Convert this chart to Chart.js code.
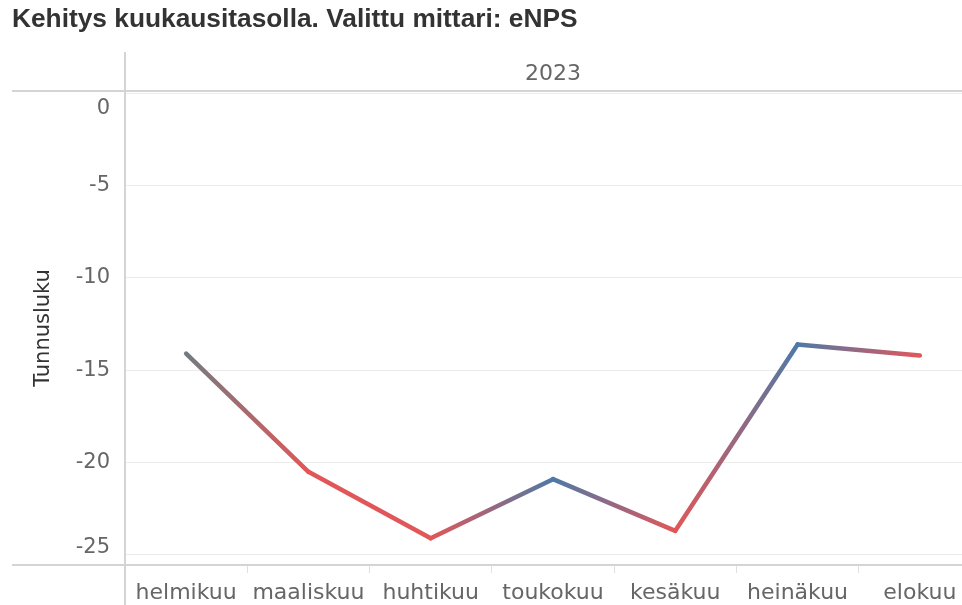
<!DOCTYPE html>
<html>
<head>
<meta charset="utf-8">
<script src="https://cdn.jsdelivr.net/npm/chart.js@4/dist/chart.umd.min.js"></script>
<style>
  html, body { margin: 0; padding: 0; background: #fff; overflow: hidden; }
  #wrap { width: 981px; height: 605px; }
</style>
</head>
<body>
<div id="wrap"><canvas id="kehitys"></canvas></div>
<script>
const months = ['helmikuu', 'maaliskuu', 'huhtikuu', 'toukokuu', 'kesäkuu', 'heinäkuu', 'elokuu'];
const enps = [-14.1, -20.5, -24.1, -20.9, -23.7, -13.6, -14.2];
const yearLabel = '2023';
const yTicks = [-25, -20, -15, -10, -5, 0];

const BLUE = '#4e79a7', RED = '#e15759', GREY = '#737b80';
const LINE = '#d4d4d4';
const FONT = 'DejaVu Sans';

// väri muutoksen suunnan mukaan (ensimmäinen harmaa)
function pointColor(i) {
  if (i === 0) return GREY;
  return enps[i] >= enps[i - 1] ? BLUE : RED;
}

const frameLines = {
  id: 'frameLines',
  beforeDatasetsDraw(chart) {
    const c = chart.ctx, a = chart.chartArea;
    c.save();
    c.strokeStyle = LINE;
    c.lineWidth = 2;
    c.beginPath();
    c.moveTo(12, a.top); c.lineTo(chart.width, a.top);
    c.moveTo(12, a.bottom); c.lineTo(chart.width, a.bottom);
    c.moveTo(a.left, 52); c.lineTo(a.left, chart.height);
    c.stroke();
    c.restore();
  }
};

const data = {
  labels: months,
  datasets: [{
    label: 'eNPS',
    data: enps,
    borderWidth: 4.5,
    borderCapStyle: 'round',
    borderJoinStyle: 'round',
    pointRadius: 0,
    tension: 0,
    segment: {
      borderColor: ctx => {
        const g = ctx.chart.ctx.createLinearGradient(ctx.p0.x, ctx.p0.y, ctx.p1.x, ctx.p1.y);
        g.addColorStop(0, pointColor(ctx.p0DataIndex));
        g.addColorStop(1, pointColor(ctx.p1DataIndex));
        return g;
      }
    }
  }]
};

const config = {
  type: 'line',
  data: data,
  plugins: [frameLines],
  options: {
    responsive: true,
    maintainAspectRatio: false,
    animation: false,
    layout: { padding: { left: 12, right: 0, top: 4, bottom: 0 } },
    scales: {
      x: {
        type: 'category',
        offset: true,
        border: { display: false },
        grid: { offset: true, drawOnChartArea: false, tickLength: 8, color: '#e0e0e0' },
        ticks: { color: '#666', font: { family: FONT, size: 22 }, padding: 7, maxRotation: 0 },
        afterFit: s => { s.height = 40; }
      },
      x2: {
        type: 'category',
        position: 'top',
        labels: months,
        offset: true,
        border: { display: false },
        grid: { display: false },
        ticks: { display: false },
        title: { display: true, text: yearLabel, color: '#666', font: { family: FONT, size: 22 }, padding: { top: 10, bottom: 0 } },
        afterFit: s => { s.height = 40; }
      },
      y: {
        min: -25.55,
        max: 0.13,
        border: { display: false },
        afterBuildTicks: s => { s.ticks = yTicks.map(v => ({ value: v })); },
        afterFit: s => { s.width = 113; },
        grid: { color: '#ececec', lineWidth: 1, drawTicks: false },
        ticks: {
          color: '#666',
          font: ctx => {
            const v = ctx.tick ? ctx.tick.value : null;
            return { family: FONT, size: 21, lineHeight: v === 0 ? 1.45 : (v === -25 ? 0.7 : 1.2) };
          },
          padding: 15,
          callback: v => v === 0 ? ['', '0'] : (v === -25 ? ['-25', ''] : String(v))
        },
        title: { display: true, text: 'Tunnusluku', color: '#333', font: { family: FONT, size: 21 }, padding: { top: 19, bottom: 0 } }
      }
    },
    plugins: {
      legend: { display: false },
      tooltip: { enabled: false },
      title: {
        display: true,
        text: 'Kehitys kuukausitasolla. Valittu mittari: eNPS',
        align: 'start',
        color: '#333',
        font: { family: 'Liberation Sans', size: 26.3, weight: 'bold' },
        padding: { top: 0, bottom: 15.4 }
      }
    }
  }
};

const myChart = new Chart(document.getElementById('kehitys'), config);
</script>
</body>
</html>
